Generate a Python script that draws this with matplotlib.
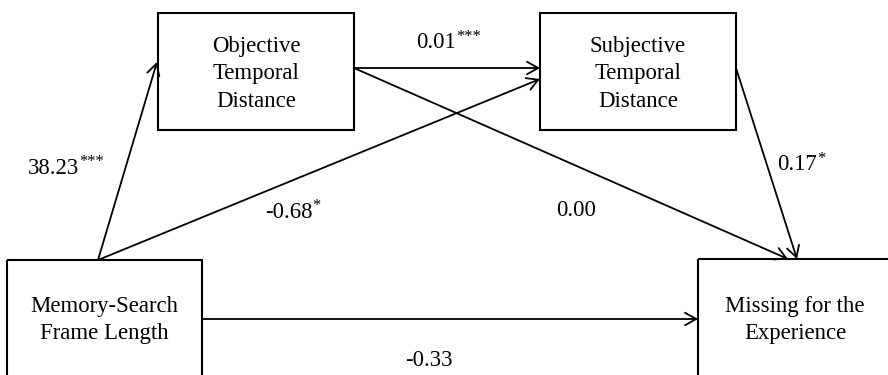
import matplotlib
matplotlib.use("Agg")
import matplotlib.pyplot as plt
from matplotlib.patches import Rectangle

# ---- data ----
node_labels = ["Memory-Search\nFrame Length", "Objective\nTemporal\nDistance",
               "Subjective\nTemporal\nDistance", "Missing for the\nExperience"]
path_coefs = ["38.23", "0.01", "-0.68", "0.00", "0.17", "-0.33"]
path_stars = ["***", "***", "*", "", "*", ""]

# ---- layout (pixels) ----
W, H = 888, 375
fig = plt.figure(figsize=(W / 100, H / 100), dpi=100)
ax = fig.add_axes([0, 0, 1, 1])
ax.set_xlim(0, W)
ax.set_ylim(H, 0)
ax.axis("off")

FONT = "Liberation Serif"
FS = 16.4

boxes = {
    0: (7, 260, 202, 400),     # x0, y0, x1, y1
    1: (158, 13, 354, 130),
    2: (540, 13, 736, 130),
    3: (698, 259, 900, 400),
}
text_pos = {0: (104, 320), 1: (256, 74), 2: (638, 74), 3: (795, 320)}

for i, (x0, y0, x1, y1) in boxes.items():
    ax.add_patch(Rectangle((x0, y0), x1 - x0, y1 - y0, fill=False,
                           lw=1.5, ec="black", zorder=2))
    tx, ty = text_pos[i]
    ax.text(tx, ty, node_labels[i], ha="center", va="center", family=FONT,
            fontsize=FS, linespacing=1.38, zorder=3)

arrows = [
    ((98, 260), (157, 62)),
    ((354, 68), (540, 68)),
    ((98, 260), (540, 79)),
    ((354, 68), (788, 259)),
    ((736, 68), (797, 259)),
    ((202, 319), (698, 319)),
]
for (s, e) in arrows:
    ax.annotate("", xy=e, xytext=s,
                arrowprops=dict(arrowstyle="->,head_length=0.8,head_width=0.45",
                                lw=1.3, color="black", shrinkA=0, shrinkB=0,
                                mutation_scale=10))

label_pos = [(28, 168), (416, 43), (265, 212), (556, 211), (777, 165), (405, 360)]

fig.canvas.draw()
renderer = fig.canvas.get_renderer()
inv = ax.transData.inverted()
for (x, y), coef, st in zip(label_pos, path_coefs, path_stars):
    t = ax.text(x, y, coef, ha="left", va="center", family=FONT, fontsize=FS)
    if st:
        bb = t.get_window_extent(renderer)
        xr, _ = inv.transform((bb.x1, bb.y0))
        ax.text(xr + 0.2, y - 6, st, ha="left", va="center", family=FONT,
                fontsize=FS * 0.72)

fig.savefig("out.png", dpi=100)
